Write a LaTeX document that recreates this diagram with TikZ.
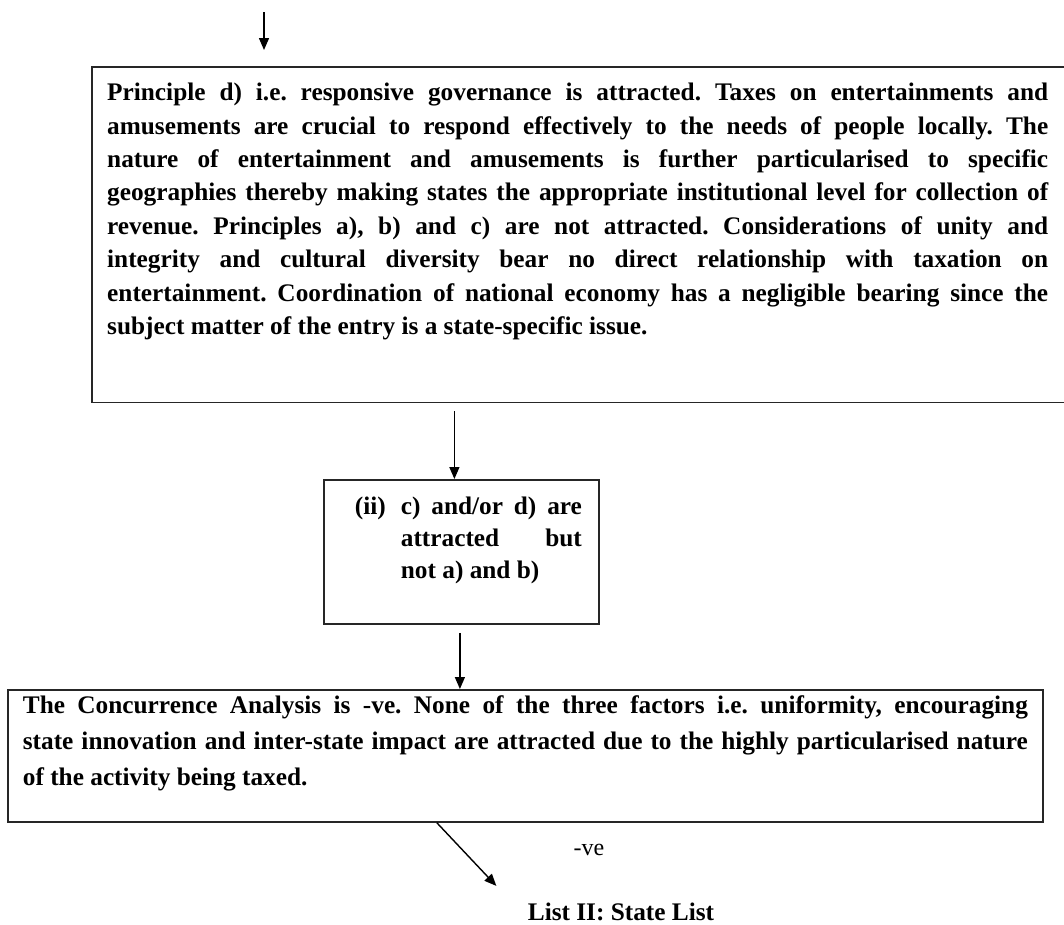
\documentclass[tikz,border=0pt]{standalone}
\usepackage{fontspec}
\setmainfont{Liberation Serif}
\usetikzlibrary{arrows.meta}

% justified bold text block: #1 height, #2 width, #3 leading, #4 text
\newcommand\panel[4]{%
  \begin{minipage}[c][#1][t]{#2}%
    \fontsize{25.3pt}{#3}\selectfont\bfseries\frenchspacing
    \tolerance=9999 \hbadness=10000 \hyphenpenalty=10000 \parindent=0pt
    #4%
  \end{minipage}}

\tikzset{
  boxline/.style={line width=1.8pt, draw=black!85},
  panelbox/.style={anchor=north west, boxline},
  arr/.style={-{Triangle[length=12pt,width=10pt]}, line width=1.4pt},
}

\begin{document}
\begin{tikzpicture}[x=1pt, y=-1pt]
  \useasboundingbox (0,0) rectangle (1064,924);
  \clip (0,0) rectangle (1064,924);

  % incoming arrow from the previous stage
  \coordinate (ctop) at (264,12);

  % principle analysis
  \node[anchor=north west, inner xsep=15pt, inner ysep=16pt] (b1) at (92,67) {\panel{303pt}{941pt}{33.4pt}{%
    Principle d) i.e. responsive governance is attracted. Taxes on entertainments and\linebreak
    amusements are crucial to respond effectively to the needs of people locally. The\linebreak
    nature of entertainment and amusements is further particularised to specific\linebreak
    geographies thereby making states the appropriate institutional level for collection of\linebreak
    revenue. Principles a), b) and c) are not attracted. Considerations of unity and\linebreak
    integrity and cultural diversity bear no direct relationship with taxation on\linebreak
    entertainment. Coordination of national economy has a negligible bearing since the\linebreak
    subject matter of the entry is a state-specific issue.}};
  \draw[boxline] ([xshift=25pt]b1.north east) -- (b1.north west) -- (b1.south west) -- ([xshift=25pt]b1.south east);

  % outcome
  \node[panelbox, draw, inner xsep=0pt, inner ysep=17pt] (b2) at (323,479) {\panel{110pt}{275pt}{32pt}{%
    \hspace*{31pt}\makebox[46pt][l]{(ii)}\parbox[t]{181pt}{c) and/or d) are\linebreak attracted but\linebreak not a) and b)}}};

  % concurrence analysis
  \node[panelbox, draw, inner xsep=15pt, inner ysep=6pt] (b3) at (7,689) {\panel{120pt}{1005pt}{36pt}{%
    The Concurrence Analysis is -ve. None of the three factors i.e. uniformity, encouraging\linebreak
    state innovation and inter-state impact are attracted due to the highly particularised nature\linebreak
    of the activity being taxed.}};

  \node[anchor=base, font=\fontsize{24pt}{28pt}\selectfont] (neg) at (589,855) {-ve};
  \node[anchor=base, font=\fontsize{25.3pt}{30pt}\selectfont\bfseries] (lst) at (621,920) {List II: State List};

  % connectors
  \draw[arr, shorten >=17pt] (ctop) -- (ctop |- b1.north);
  \draw[arr, shorten <=9pt] ([xshift=-7pt]b2.north |- b1.south) -- ([xshift=-7pt]b2.north);
  \draw[arr, shorten <=8pt] ([xshift=-1.5pt]b2.south) -- ([xshift=-1.5pt]b2.south |- b3.north);
  \draw[arr] ([xshift=-88.5pt]b3.south) -- ([shift={(-28pt,13pt)}]lst.north west);
\end{tikzpicture}
\end{document}
